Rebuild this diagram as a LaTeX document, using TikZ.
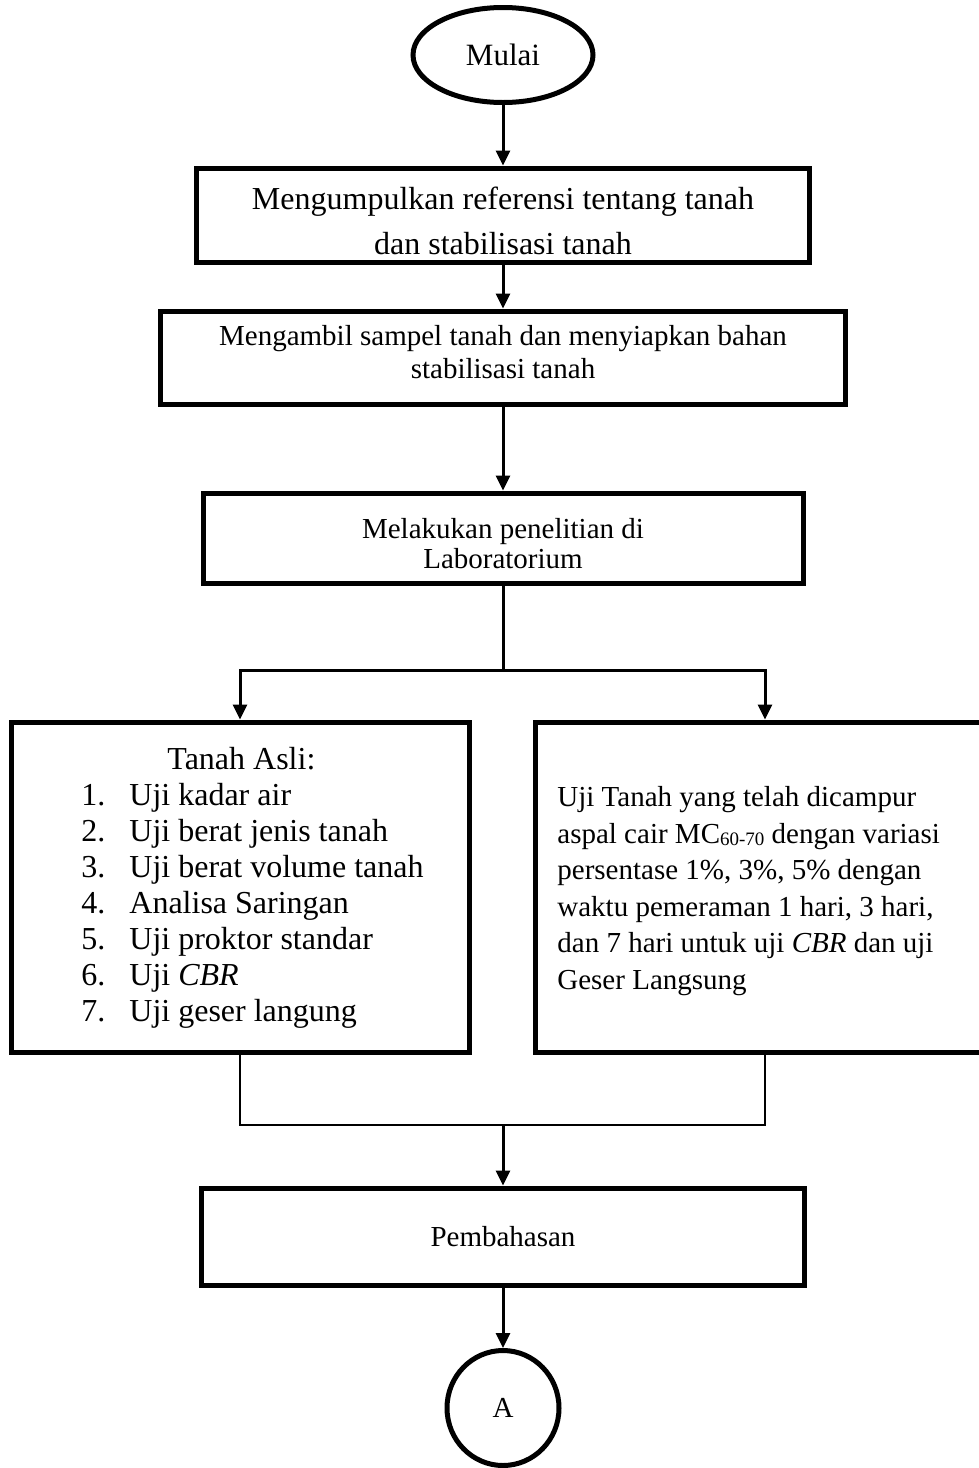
\documentclass[tikz,border=0pt]{standalone}
\usepackage{fontspec}
\setmainfont{Liberation Serif}
\usetikzlibrary{arrows.meta,shapes.geometric}
\tikzset{
  box/.style={draw, line width=2.5pt, inner sep=0pt, align=center},
  txt/.style={inner sep=0pt, align=center},
  arr/.style={line width=1.5pt, -{Triangle[length=7.5pt,width=7pt]}},
  ln/.style={line width=1.5pt},
  thinln/.style={line width=1.25pt},
  term/.style={ellipse, draw, line width=2.5pt, inner sep=0pt},
}
\begin{document}
\begin{tikzpicture}[x=0.5pt,y=-0.5pt]
\useasboundingbox (0,0) rectangle (979,1468);
\begin{scope}
\clip (0,0) rectangle (979,1468);
\node[term, minimum width=90pt, minimum height=47.5pt, font=\fontsize{15.5}{18}\selectfont] (start) at (503,55) {Mulai};
\node[box, minimum width=306.5pt, minimum height=47pt] (b1) at (503,215) {};
\node[txt, font=\fontsize{16}{22.5}\selectfont] (b1text) at (503,220.5) {Mengumpulkan referensi tentang tanah\\dan stabilisasi tanah};
\node[box, minimum width=342.5pt, minimum height=46.5pt] (b2) at (503,357.5) {};
\node[txt, font=\fontsize{14.5}{16.5}\selectfont] (b2text) at (503,352) {Mengambil sampel tanah dan menyiapkan bahan\\stabilisasi tanah};
\node[box, minimum width=300pt, minimum height=45pt] (b3) at (503,538) {};
\node[txt, font=\fontsize{14.5}{15}\selectfont] (b3text) at (503,544) {Melakukan penelitian di\\Laboratorium};
\node[box, minimum width=229pt, minimum height=165pt] (left) at (240,887) {};
\node[inner sep=0pt, font=\fontsize{16}{18}\selectfont] (lefttext) at (252.5,888) {%
\begin{tabular}{@{}p{24pt}@{}l@{}}
\multicolumn{2}{@{}l@{}}{\hspace{43pt}Tanah Asli:}\\
1. & Uji kadar air\\
2. & Uji berat jenis tanah\\
3. & Uji berat volume tanah\\
4. & Analisa Saringan\\
5. & Uji proktor standar\\
6. & Uji \textit{CBR}\\
7. & Uji geser langung
\end{tabular}};
\node[box, minimum width=230pt, minimum height=165pt] (right) at (765,887) {};
\node[inner sep=0pt, anchor=west, align=left, font=\fontsize{14.5}{18.25}\selectfont] (righttext) at (557,891) {Uji Tanah yang telah dicampur\\aspal cair MC{\fontsize{9.5}{10}\selectfont\raisebox{-1pt}{60-70}} dengan variasi\\persentase 1\%, 3\%, 5\% dengan\\waktu pemeraman 1 hari, 3 hari,\\dan 7 hari untuk uji \textit{CBR} dan uji\\Geser Langsung};
\node[box, minimum width=301.5pt, minimum height=48.5pt, font=\fontsize{14.5}{16.5}\selectfont] (pb) at (503,1236.5) {Pembahasan};
\node[term, minimum width=56pt, minimum height=57.5pt, font=\fontsize{14.5}{16.5}\selectfont] (conA) at (503,1408) {A};
\coordinate (sp) at (503,670);
\coordinate (jn) at (503,1125);
\draw[arr] (start.south) -- (b1.north);
\draw[arr] (b1.south) -- (b2.north);
\draw[arr] (b2.south) -- (b3.north);
\draw[ln] (b3.south) -- (sp);
\draw[arr] (sp) -| (left.north);
\draw[arr] (sp) -| (right.north);
\draw[thinln] (left.south) |- (jn) -| (right.south);
\draw[arr] (jn) -- (pb.north);
\draw[arr] (pb.south) -- (conA.north);
\end{scope}
\end{tikzpicture}
\end{document}
